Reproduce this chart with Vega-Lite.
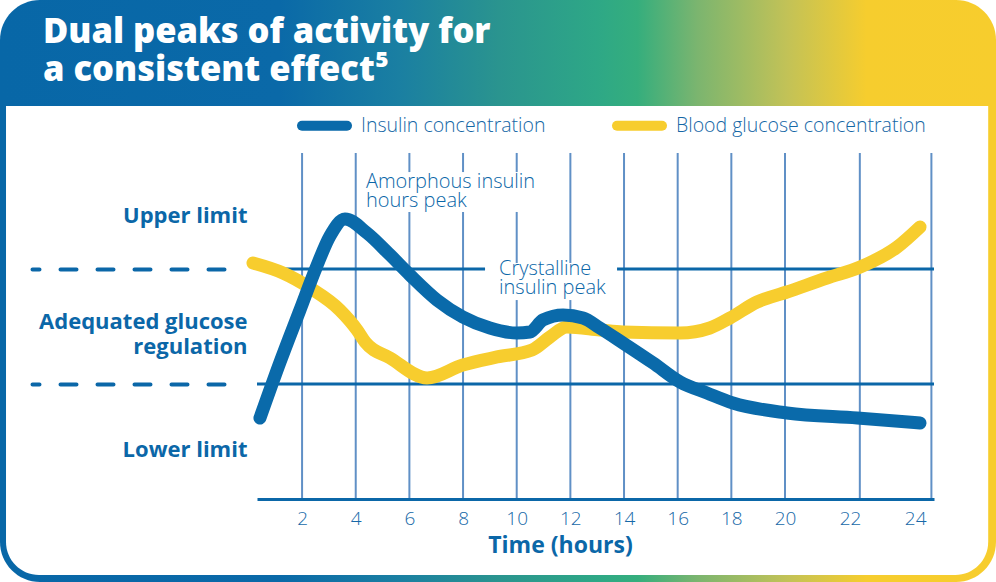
{
  "$schema": "https://vega.github.io/schema/vega-lite/v6.json",
  "width": 996,
  "height": 582,
  "autosize": "none",
  "padding": 0,
  "background": "white",
  "config": {
    "font": "Open Sans",
    "view": {
      "stroke": null,
      "cornerRadius": 40,
      "fill": {
        "gradient": "linear",
        "x1": 0, "y1": 0, "x2": 1, "y2": 0,
        "stops": [
          {"offset": 0, "color": "#0867a7"},
          {"offset": 0.28, "color": "#0a69a8"},
          {"offset": 0.40, "color": "#1a7fa2"},
          {"offset": 0.50, "color": "#2a948f"},
          {"offset": 0.60, "color": "#2ea886"},
          {"offset": 0.64, "color": "#35ae7d"},
          {"offset": 0.70, "color": "#7bb56f"},
          {"offset": 0.79, "color": "#c2c257"},
          {"offset": 0.87, "color": "#f6cd2e"},
          {"offset": 1, "color": "#f7cd2d"}
        ]
      }
    },
    "legend": {
      "orient": "none",
      "legendX": 297,
      "legendY": 98,
      "direction": "horizontal",
      "symbolType": "stroke",
      "symbolSize": 2025,
      "symbolStrokeWidth": 10,
      "labelFontSize": 19.5,
      "labelFontWeight": 300,
      "labelColor": "#1567a6",
      "labelOffset": 9,
      "labelLimit": 400,
      "columnPadding": 51,
      "padding": 0
    }
  },
  "title": {
    "text": ["Dual peaks of activity for", "a consistent effect⁵"],
    "anchor": "start",
    "frame": "group",
    "orient": "top",
    "offset": -88,
    "baseline": "top",
    "dx": 43,
    "color": "white",
    "font": "Open Sans",
    "fontSize": 34.5,
    "fontWeight": 800,
    "lineHeight": 38
  },
  "datasets": {
    "panel": [{"panel": "plot area"}],
    "grid": [
      {"hour": 2, "bottom": 0, "top": 300.9},
      {"hour": 4, "bottom": 0, "top": 300.9},
      {"hour": 6, "bottom": 0, "top": 249.6},
      {"hour": 6, "bottom": 284.3, "top": 300.9},
      {"hour": 8, "bottom": 0, "top": 249.6},
      {"hour": 8, "bottom": 284.3, "top": 300.9},
      {"hour": 10, "bottom": 0, "top": 173.0},
      {"hour": 10, "bottom": 205.2, "top": 249.6},
      {"hour": 10, "bottom": 284.3, "top": 300.9},
      {"hour": 12, "bottom": 0, "top": 173.0},
      {"hour": 12, "bottom": 205.2, "top": 300.9},
      {"hour": 14, "bottom": 0, "top": 300.9},
      {"hour": 16, "bottom": 0, "top": 300.9},
      {"hour": 18, "bottom": 0, "top": 300.9},
      {"hour": 20, "bottom": 0, "top": 300.9},
      {"hour": 22.3, "bottom": 0, "top": 300.9},
      {"hour": 24.5, "bottom": 0, "top": 300.9}
    ],
    "limits": [
      {"limit": "Upper limit", "level": 200, "from": 1.36, "to": 8.82},
      {"limit": "Upper limit", "level": 200, "from": 13.74, "to": 24.58},
      {"limit": "Lower limit", "level": 100, "from": 0.32, "to": 24.58}
    ],
    "notes": [
      {"note": "Amorphous insulin\nhours peak", "hour": 4.38, "level": 270.4},
      {"note": "Crystalline\ninsulin peak", "hour": 9.34, "level": 194.7}
    ],
    "glucose": [
      {"series": "Blood glucose concentration", "hour": 0.17, "level": 205.2},
      {"series": "Blood glucose concentration", "hour": 1.29, "level": 196.5},
      {"series": "Blood glucose concentration", "hour": 2.30, "level": 183.5},
      {"series": "Blood glucose concentration", "hour": 3.41, "level": 164.3},
      {"series": "Blood glucose concentration", "hour": 4.05, "level": 147.0},
      {"series": "Blood glucose concentration", "hour": 4.35, "level": 136.5},
      {"series": "Blood glucose concentration", "hour": 5.28, "level": 122.6},
      {"series": "Blood glucose concentration", "hour": 6.66, "level": 105.2},
      {"series": "Blood glucose concentration", "hour": 7.99, "level": 116.5},
      {"series": "Blood glucose concentration", "hour": 9.27, "level": 123.5},
      {"series": "Blood glucose concentration", "hour": 10.57, "level": 129.6},
      {"series": "Blood glucose concentration", "hour": 11.24, "level": 140.9},
      {"series": "Blood glucose concentration", "hour": 11.87, "level": 149.6},
      {"series": "Blood glucose concentration", "hour": 13.10, "level": 147.0},
      {"series": "Blood glucose concentration", "hour": 13.96, "level": 145.2},
      {"series": "Blood glucose concentration", "hour": 16.09, "level": 144.3},
      {"series": "Blood glucose concentration", "hour": 17.20, "level": 148.7},
      {"series": "Blood glucose concentration", "hour": 17.95, "level": 157.4},
      {"series": "Blood glucose concentration", "hour": 18.96, "level": 171.3},
      {"series": "Blood glucose concentration", "hour": 20.06, "level": 180.0},
      {"series": "Blood glucose concentration", "hour": 21.29, "level": 192.2},
      {"series": "Blood glucose concentration", "hour": 22.31, "level": 201.7},
      {"series": "Blood glucose concentration", "hour": 23.45, "level": 219.1},
      {"series": "Blood glucose concentration", "hour": 24.15, "level": 236.5}
    ],
    "insulin": [
      {"series": "Insulin concentration", "hour": 0.43, "level": 70.4},
      {"series": "Insulin concentration", "hour": 1.18, "level": 119.1},
      {"series": "Insulin concentration", "hour": 1.92, "level": 164.3},
      {"series": "Insulin concentration", "hour": 2.52, "level": 200.9},
      {"series": "Insulin concentration", "hour": 3.04, "level": 228.7},
      {"series": "Insulin concentration", "hour": 3.60, "level": 243.5},
      {"series": "Insulin concentration", "hour": 4.42, "level": 231.3},
      {"series": "Insulin concentration", "hour": 5.28, "level": 212.2},
      {"series": "Insulin concentration", "hour": 6.02, "level": 194.8},
      {"series": "Insulin concentration", "hour": 7.03, "level": 173.0},
      {"series": "Insulin concentration", "hour": 7.99, "level": 158.3},
      {"series": "Insulin concentration", "hour": 9.00, "level": 148.7},
      {"series": "Insulin concentration", "hour": 10.01, "level": 144.3},
      {"series": "Insulin concentration", "hour": 10.49, "level": 145.2},
      {"series": "Insulin concentration", "hour": 10.98, "level": 155.7},
      {"series": "Insulin concentration", "hour": 11.73, "level": 160.0},
      {"series": "Insulin concentration", "hour": 12.47, "level": 157.4},
      {"series": "Insulin concentration", "hour": 13.10, "level": 148.7},
      {"series": "Insulin concentration", "hour": 13.96, "level": 135.7},
      {"series": "Insulin concentration", "hour": 15.08, "level": 118.3},
      {"series": "Insulin concentration", "hour": 16.09, "level": 101.7},
      {"series": "Insulin concentration", "hour": 17.09, "level": 92.2},
      {"series": "Insulin concentration", "hour": 18.06, "level": 83.5},
      {"series": "Insulin concentration", "hour": 20.06, "level": 74.8},
      {"series": "Insulin concentration", "hour": 22.22, "level": 70.4},
      {"series": "Insulin concentration", "hour": 24.15, "level": 66.1}
    ]
  },
  "layer": [
    {
      "data": {"name": "panel"},
      "mark": {"type": "rect", "fill": "white", "cornerRadiusBottomLeft": 33, "cornerRadiusBottomRight": 33},
      "encoding": {
        "x": {"datum": -9.035, "type": "quantitative", "scale": {"type": "linear", "domain": [0.32, 20, 24.58], "range": [257, 785, 934], "nice": false, "zero": false}},
        "x2": {"datum": 26.246},
        "y": {"datum": 341.7, "type": "quantitative", "scale": {"type": "linear", "domain": [-72.174, 433.913], "nice": false, "zero": false}},
        "y2": {"datum": -66.09}
      }
    },
    {
      "data": {"name": "grid"},
      "mark": {"type": "rule", "color": "#6090c6", "strokeWidth": 2},
      "encoding": {
        "x": {"field": "hour", "type": "quantitative", "scale": {"type": "linear", "domain": [0.32, 20, 24.58], "range": [257, 785, 934], "nice": false, "zero": false}},
        "y": {"field": "bottom", "type": "quantitative", "scale": {"type": "linear", "domain": [-72.174, 433.913], "nice": false, "zero": false}},
        "y2": {"field": "top"}
      }
    },
    {
      "data": {"name": "limits"},
      "mark": {"type": "rule", "color": "#0b67a8", "strokeWidth": 3},
      "encoding": {
        "x": {"field": "from", "type": "quantitative", "scale": {"type": "linear", "domain": [0.32, 20, 24.58], "range": [257, 785, 934], "nice": false, "zero": false}},
        "x2": {"field": "to"},
        "y": {"field": "level", "type": "quantitative", "scale": {"type": "linear", "domain": [-72.174, 433.913], "nice": false, "zero": false}}
      }
    },
    {
      "data": {"name": "notes"},
      "mark": {"type": "text", "align": "left", "baseline": "alphabetic", "lineBreak": "\n", "lineHeight": 19, "fontSize": 20, "fontWeight": 300, "color": "#0b67a8"},
      "encoding": {
        "x": {"field": "hour", "type": "quantitative", "scale": {"type": "linear", "domain": [0.32, 20, 24.58], "range": [257, 785, 934], "nice": false, "zero": false}},
        "y": {"field": "level", "type": "quantitative", "scale": {"type": "linear", "domain": [-72.174, 433.913], "nice": false, "zero": false}},
        "text": {"field": "note", "type": "nominal"}
      }
    },
    {
      "data": {"name": "glucose"},
      "mark": {"type": "line", "interpolate": "monotone", "strokeWidth": 13, "strokeCap": "round", "strokeJoin": "round"},
      "encoding": {
        "x": {"field": "hour", "type": "quantitative", "scale": {"type": "linear", "domain": [0.32, 20, 24.58], "range": [257, 785, 934], "nice": false, "zero": false}},
        "y": {"field": "level", "type": "quantitative", "scale": {"type": "linear", "domain": [-72.174, 433.913], "nice": false, "zero": false}},
        "color": {
          "field": "series", "type": "nominal",
          "scale": {"domain": ["Insulin concentration", "Blood glucose concentration"], "range": ["#0a6aaa", "#f7cd2e"]}
        }
      }
    },
    {
      "data": {"name": "insulin"},
      "mark": {"type": "line", "interpolate": "monotone", "strokeWidth": 13, "strokeCap": "round", "strokeJoin": "round"},
      "encoding": {
        "x": {
          "field": "hour", "type": "quantitative",
          "scale": {"type": "linear", "domain": [0.32, 20, 24.58], "range": [257, 785, 934], "nice": false, "zero": false},
          "axis": {
            "orient": "bottom", "offset": -83, "zindex": 1,
            "values": [2, 4, 6, 8, 10, 12, 14, 16, 18, 20, 22, 24],
            "domain": true, "domainColor": "#0b67a8", "domainWidth": 3,
            "ticks": false, "grid": false,
            "labelFont": "Open Sans", "labelFontSize": 19, "labelFontWeight": 300, "labelColor": "#1769a8",
            "labelPadding": 10, "labelFlush": false, "labelOverlap": false,
            "title": "Time (hours)", "titleFont": "Open Sans", "titleFontSize": 23, "titleFontWeight": 700, "titleColor": "#0b67a8",
            "titleX": 560, "titleY": 35, "titleBaseline": "top", "titleAlign": "center"
          }
        },
        "y": {
          "field": "level", "type": "quantitative",
          "scale": {"type": "linear", "domain": [-72.174, 433.913], "nice": false, "zero": false},
          "axis": {
            "orient": "left", "offset": -245, "zindex": 1,
            "values": [43.1, 100, 154.4, 200, 246.6],
            "domain": false, "grid": false,
            "ticks": true, "tickSize": 213, "tickWidth": 4, "tickColor": "#0b67a8", "tickCap": "round",
            "tickDash": [16, 21], "tickDashOffset": 16,
            "tickOpacity": {"condition": {"test": "datum.value == 100 || datum.value == 200", "value": 1}, "value": 0},
            "labelExpr": "datum.value < 50 ? 'Lower limit' : (datum.value > 150 && datum.value < 160) ? ['Adequated glucose', 'regulation'] : datum.value > 240 ? 'Upper limit' : ''",
            "labelPadding": -215, "labelFont": "Open Sans", "labelFontSize": 22, "labelFontWeight": 700, "labelColor": "#0b67a8",
            "labelLineHeight": 25, "labelAlign": "right", "labelBaseline": "middle", "labelOverlap": false, "labelFlush": false, "labelBound": false,
            "labelLimit": 400,
            "title": null
          }
        },
        "color": {
          "field": "series", "type": "nominal",
          "scale": {"domain": ["Insulin concentration", "Blood glucose concentration"], "range": ["#0a6aaa", "#f7cd2e"]},
          "legend": {
            "title": null,
            "encode": {"symbols": {"update": {"strokeCap": {"value": "round"}}}}
          }
        }
      }
    }
  ]
}
